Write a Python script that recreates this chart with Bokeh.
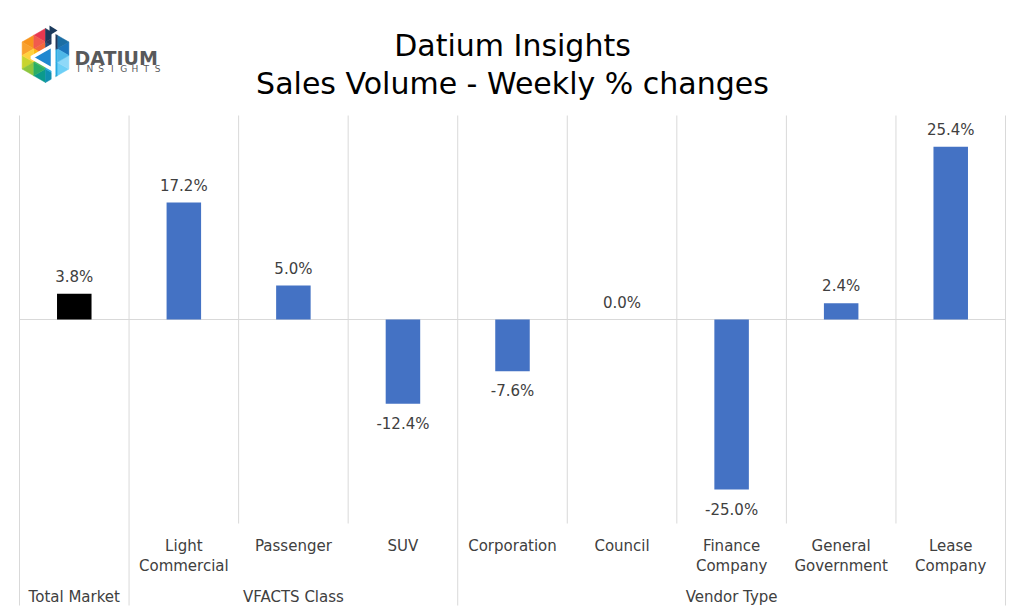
import math
from bokeh.plotting import figure
from bokeh.models import Range1d
from bokeh.embed import file_html
from bokeh.resources import INLINE
from bokeh.core.properties import value

# ---------------- data ----------------
title_lines = ["Datium Insights", "Sales Volume - Weekly % changes"]
categories = ["", "Light\nCommercial", "Passenger", "SUV", "Corporation",
              "Council", "Finance\nCompany", "General\nGovernment", "Lease\nCompany"]
groups = ["Total Market", "VFACTS Class", "Vendor Type"]
group_sizes = [1, 3, 5]
changes = [3.8, 17.2, 5.0, -12.4, -7.6, 0.0, -25.0, 2.4, 25.4]
y_min, y_max = -30, 30

# ---------------- styles / layout (page pixels) ----------------
BAR_BLUE = "#4472C4"
bar_colors = ["#000000"] + [BAR_BLUE] * (len(changes) - 1)
GRID = "#D9D9D9"
TXT = "#404040"
FONT = value("DejaVu Sans")

PAGE = 0
W, H = 1016, 607
FRAME_L, FRAME_R = 19, 1005
FRAME_T, FRAME_B = 115, 523
n = len(categories)
ux = (FRAME_R - FRAME_L) / n
uy = (FRAME_B - FRAME_T) / (y_max - y_min)


def X(px):
    return (px - FRAME_L) / ux


def Y(py):
    return y_max - (py - FRAME_T) / uy


p = figure(width=W, height=H, output_backend="svg", toolbar_location=None,
           x_axis_type=None, y_axis_type=None,
           x_range=Range1d(X(PAGE), X(PAGE + W)),
           y_range=Range1d(Y(PAGE + H), Y(PAGE)),
           min_border=0)
p.outline_line_color = None
p.background_fill_color = "white"
p.border_fill_color = "white"

# ---------------- separators ----------------
group_edges = [0]
for s in group_sizes:
    group_edges.append(group_edges[-1] + s)
sx0, sy0, sx1, sy1 = [], [], [], []
for i in range(n + 1):
    sx0.append(i)
    sx1.append(i)
    sy0.append(y_max)
    sy1.append(Y(605) if i in group_edges else y_min)
p.segment(sx0, sy0, sx1, sy1, line_color=GRID, line_width=1)
p.segment([0], [0], [n], [0], line_color=GRID, line_width=1)

# ---------------- bars ----------------
centers = [i + 0.5 for i in range(n)]
p.vbar(x=centers, top=changes, bottom=0, width=0.315,
       fill_color=bar_colors, line_color=None)

# ---------------- value labels ----------------
pos_x = [c for c, v in zip(centers, changes) if v >= 0]
pos_y = [v for v in changes if v >= 0]
neg_x = [c for c, v in zip(centers, changes) if v < 0]
neg_y = [v for v in changes if v < 0]
p.text(pos_x, pos_y, text=[f"{v:.1f}%" for v in pos_y], text_align="center",
       text_baseline="middle", y_offset=-17, text_font=FONT,
       text_font_size="15px", text_color=TXT)
p.text(neg_x, neg_y, text=[f"{v:.1f}%" for v in neg_y], text_align="center",
       text_baseline="middle", y_offset=20, text_font=FONT,
       text_font_size="15px", text_color=TXT)

# ---------------- category labels ----------------
lx, ly, lt = [], [], []
for c, lab in zip(centers, categories):
    for k, line in enumerate(lab.split("\n")):
        if line:
            lx.append(c)
            ly.append(Y(545 + 20 * k))
            lt.append(line)
p.text(lx, ly, text=lt, text_align="center", text_baseline="middle",
       text_font=FONT, text_font_size="15px", text_color=TXT)

gx = [(group_edges[i] + group_edges[i + 1]) / 2 for i in range(len(groups))]
p.text(gx, [Y(596)] * len(groups), text=groups, text_align="center",
       text_baseline="middle", text_font=FONT, text_font_size="15px",
       text_color=TXT)

# ---------------- title ----------------
p.text([X(512)] * 2, [Y(45), Y(83)], text=title_lines, text_align="center",
       text_baseline="alphabetic", text_font=FONT, text_font_size="30px",
       text_color="#000000")

# ---------------- logo ----------------
cx, cy, R = 45, 55, 27
verts = []
for k in range(6):
    a = math.radians(90 + 60 * k)
    verts.append((cx + R * math.cos(a), cy - R * math.sin(a)))
sector_colors = [
    ["#F26B3A", "#E8384F", "#F7941D", "#F15B4E"],
    ["#FDB913", "#F9A12E", "#C8D42F", "#FFD23F"],
    ["#5BBF5A", "#8DC63F", "#0B9A8D", "#2BAE66"],
    ["#1B9DD9", "#0F8FB0", "#6DCFF6", "#27AAE1"],
    ["#27AAE1", "#8ED8F8", "#1C75BC", "#4FB8E8"],
    ["#1C4E80", "#1C6EA4", "#1B3A5C", "#23395B"],
]


def mid(a, b):
    return ((a[0] + b[0]) / 2, (a[1] + b[1]) / 2)


txs, tys, tcs = [], [], []
C = (cx, cy)
for k in range(6):
    A, B = verts[k], verts[(k + 1) % 6]
    mCA, mCB, mAB = mid(C, A), mid(C, B), mid(A, B)
    tris = [(C, mCA, mCB), (mCA, A, mAB), (mCB, mAB, B), (mCA, mAB, mCB)]
    for t, col in zip(tris, sector_colors[k]):
        txs.append([X(pt[0]) for pt in t])
        tys.append([Y(pt[1]) for pt in t])
        tcs.append(col)
p.patches(txs, tys, fill_color=tcs, line_color=tcs, line_width=0.5)

# white "d" stroke and inner triangle
p.patch([X(52), X(31), X(52)], [Y(45), Y(57), Y(69)], fill_color="#1E88D0",
        line_color="white", line_width=3.5)
p.segment([X(53)], [Y(32)], [X(53)], [Y(81)], line_color="white", line_width=4)
p.patch([X(49), X(49), X(57)], [Y(25), Y(35), Y(30)], fill_color="#1B3A5C",
        line_color=None)

p.text([X(74)], [Y(57)], text=["DATIUM"], text_align="left",
       text_baseline="alphabetic", text_font=FONT, text_font_size="19px",
       text_font_style="bold", text_color="#58595B")
ins = "INSIGHTS"
p.text([X(78 + i * 11.3) for i in range(len(ins))], [Y(68)] * len(ins),
       text=list(ins), text_align="center", text_baseline="alphabetic",
       text_font=FONT, text_font_size="9px", text_color="#58595B")

open("out.html", "w").write(file_html(p, INLINE))
